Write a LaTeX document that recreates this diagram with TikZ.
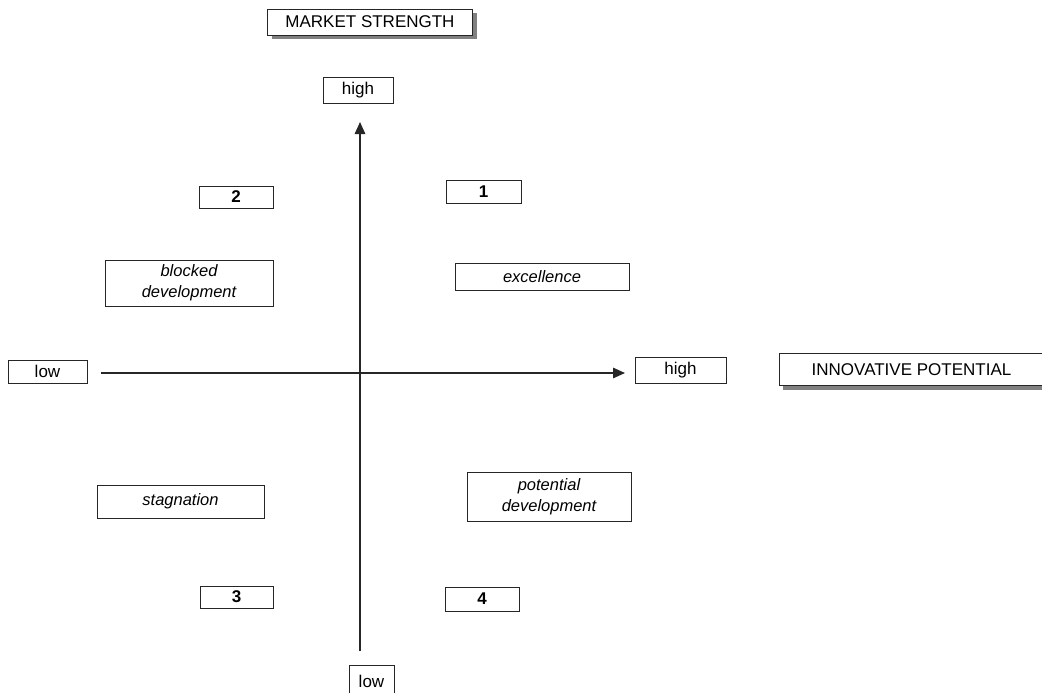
\documentclass[tikz,border=0pt]{standalone}
\usepackage{fontspec}
\setmainfont{Liberation Sans}
\usetikzlibrary{arrows.meta,shadows}
\begin{document}
\begin{tikzpicture}[x=1pt,y=-1pt,
  box/.style={draw=black!85, line width=0.9pt, fill=white, inner sep=0pt,
    font=\fontsize{17}{21}\selectfont, align=center},
  numbox/.style={box, font=\fontsize{17}{21}\selectfont\bfseries},
  fieldbox/.style={box, font=\fontsize{16.5}{21}\selectfont\itshape},
  titlebox/.style={box, drop shadow={shadow xshift=4pt, shadow yshift=-4pt,
    fill=black!50, opacity=1}},
  axis/.style={draw=black!85, line width=1.4pt,
    -{Triangle[length=12pt,width=10.5pt]}}]
\useasboundingbox (0,0) rectangle (1042,693);
\clip (0,0) rectangle (1042,693);

% axis titles
\node[titlebox, minimum width=205, minimum height=26] (mstrength) at (370,22) {MARKET STRENGTH};
\node[titlebox, minimum width=265, minimum height=32] (ipotential) at (911.5,369.5) {INNOVATIVE POTENTIAL};

% axis end labels
\node[box, minimum width=70, minimum height=26] (yhigh) at (358,90) {high};
\node[box, minimum width=45, minimum height=32] (ylow) at (371.5,681) {low};
\node[box, minimum width=79, minimum height=23] (xlow) at (47.5,371.5) {low};
\node[box, minimum width=91, minimum height=26] (xhigh) at (680.5,370.5) {high};

% axes
\coordinate (ytop) at (360,122);
\coordinate (ybot) at (360,651);
\coordinate (xleft) at (101,373);
\coordinate (xright) at (625,373);
\draw[axis] (ybot) -- (ytop);
\draw[axis] (xleft) -- (xright);

% quadrant numbers
\node[numbox, minimum width=75, minimum height=23] (q1) at (483.5,191.5) {1};
\node[numbox, minimum width=74, minimum height=22] (q2) at (236,197) {2};
\node[numbox, minimum width=73, minimum height=22] (q3) at (236.5,597) {3};
\node[numbox, minimum width=74, minimum height=24] (q4) at (482,599) {4};

% quadrant descriptions
\node[fieldbox, minimum width=174, minimum height=27] (excellence) at (542,276.5) {excellence};
\node[fieldbox, minimum width=168, minimum height=46] (blocked) at (189,283) {blocked\\development};
\node[fieldbox, minimum width=167, minimum height=33] (stagnation) at (180.5,501.5) {stagnation};
\node[fieldbox, minimum width=164, minimum height=49] (potential) at (549,496.5) {potential\\development};
\end{tikzpicture}
\end{document}
